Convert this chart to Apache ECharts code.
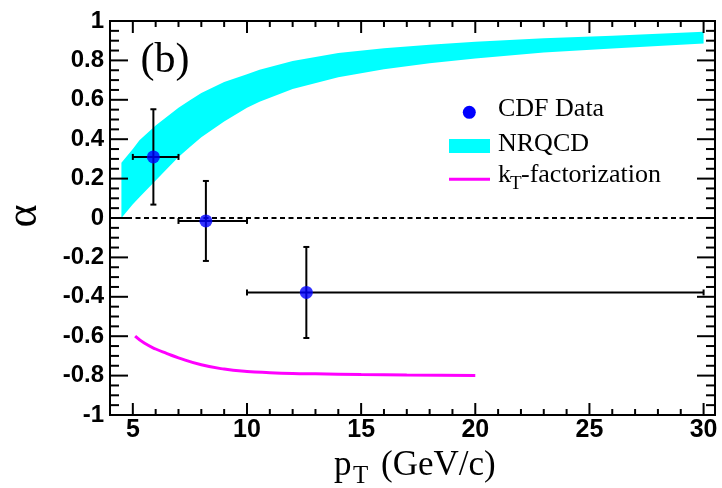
<!DOCTYPE html>
<html>
<head>
<meta charset="utf-8">
<script src="https://cdn.jsdelivr.net/npm/echarts@6/dist/echarts.min.js"></script>
<style>
html,body{margin:0;padding:0;background:#fff;}
#chart{width:722px;height:488px;}
</style>
</head>
<body>
<div id="chart"></div>
<script>
// CDF data points
const cdfX = [5.9, 8.2, 12.6];
const cdfY = [0.31, -0.015, -0.378];
const cdfXLow = [5.0, 7.0, 10.0];
const cdfXHigh = [7.0, 10.0, 30.0];
const cdfYErr = [0.242, 0.203, 0.231];

// NRQCD band
const bandX = [4.5, 5, 5.29, 6, 7, 7.5, 8, 9, 10, 10.55, 12, 14, 16, 18, 20, 23, 26, 30];
const bandUpper = [0.28, 0.35, 0.395, 0.47, 0.56, 0.598, 0.635, 0.69, 0.73, 0.752, 0.797, 0.837, 0.862, 0.88, 0.895, 0.913, 0.925, 0.945];
const bandLower = [0.0, 0.07, 0.105, 0.19, 0.31, 0.36, 0.41, 0.49, 0.56, 0.59, 0.655, 0.715, 0.755, 0.785, 0.81, 0.84, 0.86, 0.886];

// kT-factorization curve
const ktX = [5.1, 5.5, 6, 6.5, 7, 8, 9, 10, 11, 12, 13, 15, 17, 20];
const ktY = [-0.6, -0.635, -0.665, -0.688, -0.71, -0.745, -0.767, -0.779, -0.785, -0.789, -0.791, -0.795, -0.797, -0.799];

// zero reference line
const zeroX = [4, 30.5];
const zeroY = [0, 0];

// axes and ticks
const xMin = 4, xMax = 30.5;
const yMin = -1, yMax = 1;
const xLabelValues = [5, 10, 15, 20, 25, 30];
const xMajorTicks = [5, 10, 15, 20, 25, 30];
const xMinorTicks = [6, 7, 8, 9, 11, 12, 13, 14, 16, 17, 18, 19, 21, 22, 23, 24, 26, 27, 28, 29];
const yMajorTicks = [-0.8, -0.6, -0.4, -0.2, 0, 0.2, 0.4, 0.6, 0.8];
const yMinorTicks = [-0.95, -0.9, -0.85, -0.75, -0.7, -0.65, -0.55, -0.5, -0.45, -0.35, -0.3, -0.25,
  -0.15, -0.1, -0.05, 0.05, 0.1, 0.15, 0.25, 0.3, 0.35, 0.45, 0.5, 0.55, 0.65, 0.7, 0.75, 0.85, 0.9, 0.95];

const chart = echarts.init(document.getElementById('chart'), null, {renderer: 'canvas'});

function xTickSeries(values, len) {
  return {
    type: 'custom', xAxisIndex: 0, yAxisIndex: 0, z: 6,
    data: values.map(v => [v, yMin]),
    renderItem: (params, api) => {
      const v = values[params.dataIndex];
      const b = api.coord([v, yMin]);
      const t = api.coord([v, yMax]);
      return {type: 'group', children: [
        {type: 'line', shape: {x1: b[0], y1: b[1], x2: b[0], y2: b[1] - len}, style: {stroke: '#000', lineWidth: 2}},
        {type: 'line', shape: {x1: t[0], y1: t[1], x2: t[0], y2: t[1] + len}, style: {stroke: '#000', lineWidth: 2}}
      ]};
    }
  };
}
function yTickSeries(values, len) {
  return {
    type: 'custom', xAxisIndex: 0, yAxisIndex: 0, z: 6,
    data: values.map(v => [xMin, v]),
    renderItem: (params, api) => {
      const v = values[params.dataIndex];
      const l = api.coord([xMin, v]);
      const r = api.coord([xMax, v]);
      return {type: 'group', children: [
        {type: 'line', shape: {x1: l[0], y1: l[1], x2: l[0] + len, y2: l[1]}, style: {stroke: '#000', lineWidth: 2}},
        {type: 'line', shape: {x1: r[0], y1: r[1], x2: r[0] - len, y2: r[1]}, style: {stroke: '#000', lineWidth: 2}}
      ]};
    }
  };
}

const option = {
  animation: false,
  backgroundColor: '#fff',
  grid: {left: 110, right: 7, top: 21, bottom: 73, show: true, borderColor: '#000', borderWidth: 2},
  xAxis: {
    type: 'value', min: xMin, max: xMax, interval: 1,
    axisLine: {show: false}, axisTick: {show: false}, splitLine: {show: false},
    axisLabel: {
      show: true, margin: 3, fontFamily: 'Liberation Sans', fontWeight: 'bold', fontSize: 25, color: '#000',
      formatter: v => (xLabelValues.indexOf(Math.round(v * 1000) / 1000) >= 0 ? String(Math.round(v)) : '')
    }
  },
  yAxis: {
    type: 'value', min: yMin, max: yMax, interval: 0.2,
    axisLine: {show: false}, axisTick: {show: false}, splitLine: {show: false},
    axisLabel: {
      show: true, margin: 6, fontFamily: 'Liberation Sans', fontWeight: 'bold', fontSize: 24, color: '#000',
      formatter: v => String(+(+v).toFixed(1))
    }
  },
  series: [
    {
      type: 'custom', xAxisIndex: 0, yAxisIndex: 0, clip: true, z: 1,
      data: [[bandX[0], bandUpper[0]]],
      renderItem: (params, api) => {
        const pts = bandX.map((x, i) => api.coord([x, bandUpper[i]]));
        for (let i = bandX.length - 1; i >= 0; i--) pts.push(api.coord([bandX[i], bandLower[i]]));
        return {type: 'polygon', shape: {points: pts}, style: {fill: '#00ffff', stroke: null}};
      }
    },
    xTickSeries(xMajorTicks, 12),
    xTickSeries(xMinorTicks, 6),
    yTickSeries(yMajorTicks, 18),
    yTickSeries(yMinorTicks, 9),
    {
      type: 'line', xAxisIndex: 0, yAxisIndex: 0, z: 2, smooth: true, showSymbol: false,
      data: ktX.map((x, i) => [x, ktY[i]]),
      lineStyle: {color: '#ff00ff', width: 3}
    },
    {
      type: 'line', xAxisIndex: 0, yAxisIndex: 0, z: 3, showSymbol: false,
      data: zeroX.map((x, i) => [x, zeroY[i]]),
      lineStyle: {color: '#000', width: 2, type: [5, 3.5]}
    },
    {
      type: 'custom', xAxisIndex: 0, yAxisIndex: 0, z: 4,
      data: cdfX.map((x, i) => [x, cdfY[i]]),
      renderItem: (params, api) => {
        const i = params.dataIndex;
        const xl = api.coord([cdfXLow[i], cdfY[i]]);
        const xh = api.coord([cdfXHigh[i], cdfY[i]]);
        const yl = api.coord([cdfX[i], cdfY[i] - cdfYErr[i]]);
        const yh = api.coord([cdfX[i], cdfY[i] + cdfYErr[i]]);
        const c = 3;
        const L = (x1, y1, x2, y2) => ({type: 'line', shape: {x1, y1, x2, y2}, style: {stroke: '#000', lineWidth: 2}});
        return {type: 'group', children: [
          L(xl[0], xl[1], xh[0], xh[1]),
          L(yh[0], yh[1], yl[0], yl[1]),
          L(xl[0], xl[1] - c, xl[0], xl[1] + c),
          L(xh[0], xh[1] - c, xh[0], xh[1] + c),
          L(yl[0] - c, yl[1], yl[0] + c, yl[1]),
          L(yh[0] - c, yh[1], yh[0] + c, yh[1])
        ]};
      }
    },
    {
      type: 'scatter', xAxisIndex: 0, yAxisIndex: 0, z: 5,
      data: cdfX.map((x, i) => [x, cdfY[i]]),
      symbol: 'circle', symbolSize: 13,
      itemStyle: {color: '#0000ff'}
    }
  ],
  graphic: [
    {type: 'text', x: 165, y: 61, style: {text: '(b)', font: '42px "Liberation Serif"', fill: '#000', align: 'center', verticalAlign: 'middle'}},
    {type: 'text', x: 24, y: 216, rotation: Math.PI / 2, style: {text: 'α', font: '44px "Liberation Serif"', fill: '#000', align: 'center', verticalAlign: 'middle'}},
    {type: 'text', x: 334, y: 466, style: {text: 'p', font: '35px "Liberation Serif"', fill: '#000', align: 'left', verticalAlign: 'middle'}},
    {type: 'text', x: 353, y: 476.5, style: {text: 'T', font: '25px "Liberation Serif"', fill: '#000', align: 'left', verticalAlign: 'middle'}},
    {type: 'text', x: 381, y: 466, style: {text: '(GeV/c)', font: '35px "Liberation Serif"', fill: '#000', align: 'left', verticalAlign: 'middle'}},
    // legend
    {type: 'circle', shape: {cx: 469.3, cy: 112.3, r: 6.5}, style: {fill: '#0000ff'}},
    {type: 'text', x: 498, y: 109.6, style: {text: 'CDF Data', font: '26px "Liberation Serif"', fill: '#000', align: 'left', verticalAlign: 'middle'}},
    {type: 'rect', shape: {x: 449, y: 139, width: 41, height: 14}, style: {fill: '#00ffff'}},
    {type: 'text', x: 498, y: 144.3, style: {text: 'NRQCD', font: '26px "Liberation Serif"', fill: '#000', align: 'left', verticalAlign: 'middle'}},
    {type: 'line', shape: {x1: 449, y1: 179.3, x2: 490, y2: 179.3}, style: {stroke: '#ff00ff', lineWidth: 3}},
    {type: 'text', x: 498, y: 175.6, style: {text: 'k', font: '26px "Liberation Serif"', fill: '#000', align: 'left', verticalAlign: 'middle'}},
    {type: 'text', x: 510, y: 183.6, style: {text: 'T', font: '19px "Liberation Serif"', fill: '#000', align: 'left', verticalAlign: 'middle'}},
    {type: 'text', x: 521, y: 175.6, style: {text: '-factorization', font: '26px "Liberation Serif"', fill: '#000', align: 'left', verticalAlign: 'middle'}}
  ]
};
chart.setOption(option);
</script>
</body>
</html>
